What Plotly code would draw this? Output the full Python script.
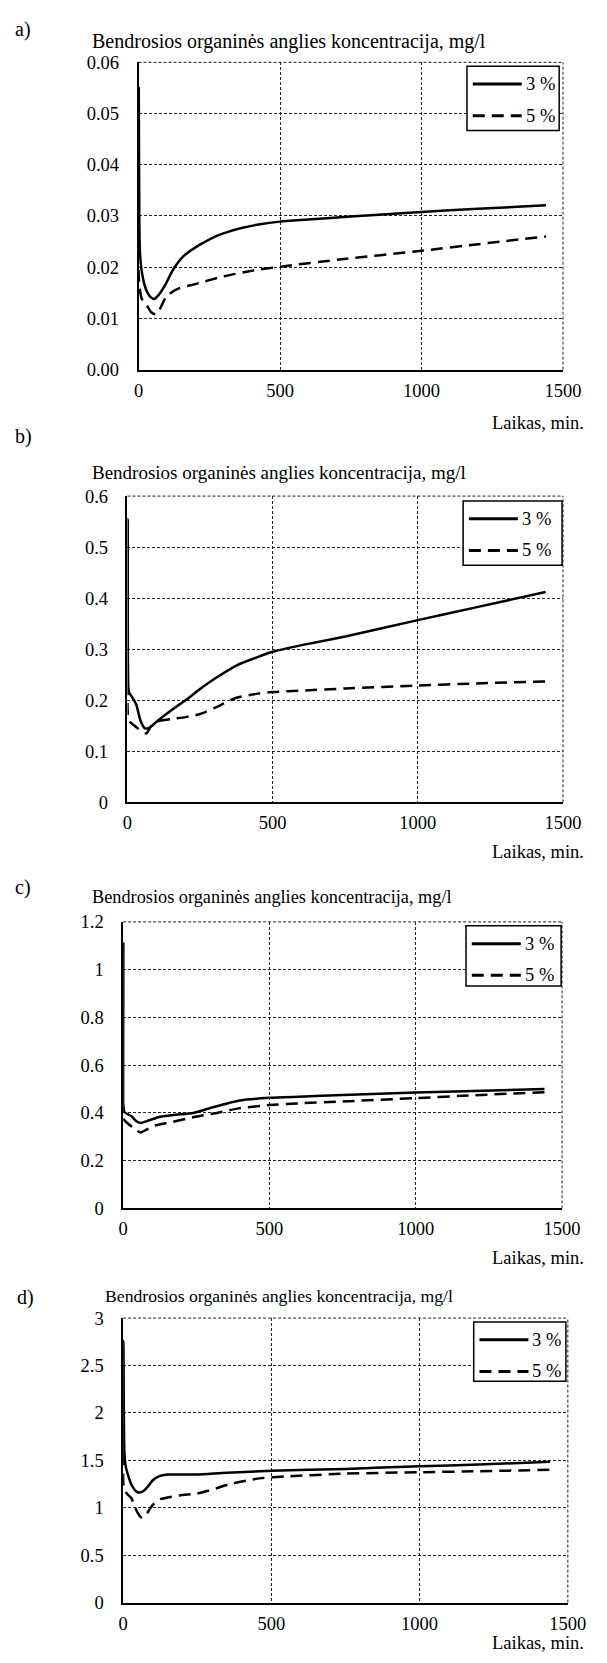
import plotly.graph_objects as go

W, H = 607, 1663
FONT = "Liberation Serif, Times New Roman, DejaVu Serif, serif"

# ---------------- data ----------------
time_a3 = [0, 1, 3, 6, 12, 20, 30, 42, 55, 70, 95, 122, 160, 214, 260, 300, 360, 430, 500, 600, 750, 1000, 1200, 1440]
conc_a3 = [0.022, 0.055, 0.028, 0.022, 0.019, 0.0168, 0.0152, 0.0142, 0.0138, 0.0145, 0.0166, 0.0195, 0.0222, 0.0243, 0.0257, 0.0266, 0.0276, 0.0284, 0.0289, 0.0293, 0.0299, 0.0308, 0.0314, 0.0321]
time_a5 = [0, 2, 6, 12, 20, 30, 45, 60, 75, 95, 110, 140, 200, 300, 400, 500, 711, 1000, 1200, 1440]
conc_a5 = [0.0195, 0.017, 0.0152, 0.0138, 0.0132, 0.0125, 0.0112, 0.0108, 0.0118, 0.0140, 0.0148, 0.0158, 0.0167, 0.0182, 0.0193, 0.0201, 0.0215, 0.0232, 0.0245, 0.0260]

time_b3 = [0, 1, 3, 6, 15, 30, 45, 60, 75, 100, 150, 200, 250, 300, 375, 450, 500, 600, 750, 1000, 1200, 1440]
conc_b3 = [0.21, 0.555, 0.225, 0.215, 0.207, 0.192, 0.16, 0.145, 0.146, 0.158, 0.18, 0.20, 0.222, 0.242, 0.268, 0.285, 0.295, 0.308, 0.325, 0.357, 0.382, 0.412]
time_b5 = [0, 2, 8, 20, 35, 50, 65, 80, 100, 150, 200, 250, 300, 375, 450, 500, 600, 750, 1000, 1200, 1440]
conc_b5 = [0.195, 0.168, 0.158, 0.152, 0.145, 0.138, 0.135, 0.148, 0.158, 0.163, 0.167, 0.173, 0.185, 0.205, 0.213, 0.216, 0.219, 0.223, 0.229, 0.233, 0.237]

time_c3 = [0, 1, 4, 15, 30, 45, 60, 80, 120, 180, 240, 310, 400, 500, 600, 750, 1000, 1200, 1440]
conc_c3 = [0.40, 1.11, 0.405, 0.395, 0.385, 0.365, 0.358, 0.365, 0.382, 0.392, 0.40, 0.425, 0.452, 0.463, 0.468, 0.475, 0.485, 0.492, 0.50]
time_c5 = [0, 10, 30, 45, 60, 80, 110, 160, 240, 320, 400, 500, 600, 750, 1000, 1200, 1440]
conc_c5 = [0.375, 0.362, 0.342, 0.328, 0.318, 0.33, 0.347, 0.36, 0.382, 0.40, 0.42, 0.433, 0.44, 0.448, 0.462, 0.474, 0.487]

time_d3 = [0, 1, 4, 8, 15, 30, 45, 55, 70, 85, 100, 120, 150, 200, 250, 350, 500, 750, 1000, 1200, 1440]
conc_d3 = [1.45, 2.76, 1.6, 1.45, 1.36, 1.23, 1.17, 1.16, 1.18, 1.23, 1.29, 1.33, 1.35, 1.35, 1.35, 1.37, 1.39, 1.41, 1.437, 1.455, 1.485]
time_d5 = [0, 1.5, 6, 15, 28, 38, 50, 60, 70, 80, 100, 126, 190, 250, 300, 360, 460, 550, 750, 1000, 1200, 1440]
conc_d5 = [1.36, 1.22, 1.18, 1.14, 1.10, 1.02, 0.94, 0.90, 0.90, 0.94, 1.03, 1.09, 1.13, 1.15, 1.19, 1.25, 1.31, 1.33, 1.36, 1.375, 1.385, 1.40]

series_names = ["3 %", "5 %"]
panel_letters = ["a)", "b)", "c)", "d)"]
y_title = "Bendrosios organinės anglies koncentracija, mg/l"
x_title = "Laikas, min."
x_ticks = [0, 500, 1000, 1500]
y_ranges = [0.06, 0.6, 1.2, 3]
y_dticks = [0.01, 0.1, 0.2, 0.5]
y_formats = [".2f", "", "", ""]

data = [
    (time_a3, conc_a3, time_a5, conc_a5),
    (time_b3, conc_b3, time_b5, conc_b5),
    (time_c3, conc_c3, time_c5, conc_c5),
    (time_d3, conc_d3, time_d5, conc_d5),
]

# ---------------- layout geometry (pixels) ----------------
plots = [(139, 581, 53, 364), (127.5, 581, 492, 802), (123, 580, 923, 1213), (123, 586, 1324, 1612)]
legend_boxes = [(481, 57, 577, 122), (477, 497, 580, 562), (480, 927, 579, 988), (488, 1328, 584, 1388)]
letter_pos = [(8, 20), (8, 432), (8, 888), (10, 1303)]
title_pos = [(88, 32, 20), (88, 468, 19), (88, 898, 18.3), (102, 1302, 17.7)]
xlab_y = [418, 852, 1263, 1653]


def X(px):
    return px / W


def Y(py):
    return 1 - py / H


fig = go.Figure()
shapes = []
annotations = []
DASH = "12px,7px"
GRID_DASH = "3px,2px"
GRID_COLOR = "#222"
TICK_SIZE = 18.5

for i in range(4):
    n = "" if i == 0 else str(i + 1)
    xa, ya = "x" + n, "y" + n
    t3, c3, t5, c5 = data[i]
    fig.add_trace(go.Scatter(x=t3, y=c3, mode="lines", name=series_names[0], xaxis=xa, yaxis=ya,
                             line=dict(color="black", width=2.5, shape="spline", smoothing=0.6),
                             showlegend=False))
    fig.add_trace(go.Scatter(x=t5, y=c5, mode="lines", name=series_names[1], xaxis=xa, yaxis=ya,
                             line=dict(color="black", width=2.5, dash=DASH, shape="spline", smoothing=0.6),
                             showlegend=False))
    l, r, t, b = plots[i]
    axcommon = dict(showgrid=True, gridcolor=GRID_COLOR, gridwidth=1, griddash=GRID_DASH,
                    zeroline=False, ticks="", showline=True, linecolor="black", linewidth=1.5,
                    tickfont=dict(family=FONT, size=TICK_SIZE, color="black"))
    fig.update_layout(**{
        "xaxis" + n: dict(domain=[X(l), X(r)], range=[0, 1500], tickvals=x_ticks,
                          anchor=ya, ticklabelstandoff=3, **axcommon),
        "yaxis" + n: dict(domain=[Y(b), Y(t)], range=[0, y_ranges[i]], dtick=y_dticks[i], tick0=0,
                          tickformat=y_formats[i], anchor=xa, ticklabelstandoff=14, **axcommon),
    })
    # dashed top and right frame lines (as in the reference)
    shapes.append(dict(type="line", xref=xa + " domain", yref=ya + " domain", x0=0, x1=1, y0=1, y1=1,
                       line=dict(color=GRID_COLOR, width=1, dash=GRID_DASH)))
    shapes.append(dict(type="line", xref=xa + " domain", yref=ya + " domain", x0=1, x1=1, y0=0, y1=1,
                       line=dict(color=GRID_COLOR, width=1, dash=GRID_DASH)))
    # legend box
    bx0, by0, bx1, by1 = legend_boxes[i]
    shapes.append(dict(type="rect", xref="paper", yref="paper", x0=X(bx0), x1=X(bx1), y0=Y(by1), y1=Y(by0),
                       line=dict(color="black", width=1.5), fillcolor="white"))
    rows = [by0 + 18, by0 + 50]
    for k, ry in enumerate(rows):
        shapes.append(dict(type="line", xref="paper", yref="paper", x0=X(bx0 + 6), x1=X(bx0 + 57),
                           y0=Y(ry), y1=Y(ry),
                           line=dict(color="black", width=3, dash="solid" if k == 0 else DASH)))
        annotations.append(dict(text=series_names[k], xref="paper", yref="paper", x=X(bx0 + 59), y=Y(ry),
                                xanchor="left", yanchor="middle", showarrow=False,
                                font=dict(family=FONT, size=18.5, color="black")))
    # panel letter
    lx, ly = letter_pos[i]
    annotations.append(dict(text=panel_letters[i], xref="paper", yref="paper", x=X(lx), y=Y(ly),
                            xanchor="left", yanchor="middle", showarrow=False,
                            font=dict(family=FONT, size=20, color="black")))
    tx, ty, ts = title_pos[i]
    annotations.append(dict(text=y_title, xref="paper", yref="paper", x=X(tx), y=Y(ty),
                            xanchor="left", yanchor="middle", showarrow=False,
                            font=dict(family=FONT, size=ts, color="black")))
    annotations.append(dict(text=x_title, xref="paper", yref="paper", x=X(605), y=Y(xlab_y[i]),
                            xanchor="right", yanchor="middle", showarrow=False,
                            font=dict(family=FONT, size=18.5, color="black")))

fig.update_layout(width=W, height=H, margin=dict(l=0, r=0, t=0, b=0),
                  paper_bgcolor="white", plot_bgcolor="white",
                  shapes=shapes, annotations=annotations, showlegend=False)

fig.write_html("out.html")
